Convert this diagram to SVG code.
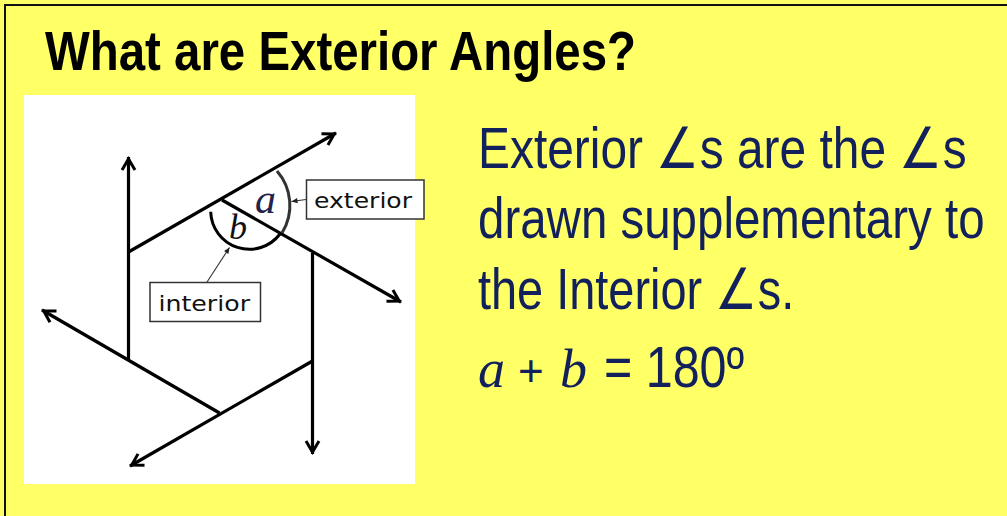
<svg xmlns="http://www.w3.org/2000/svg" width="1007" height="516" viewBox="0 0 1007 516">
  <style>
    .ray { fill: none; stroke: #000; stroke-width: 3.2; marker-end: url(#rayHead); }
    .lead { fill: none; stroke: #333; stroke-width: 1.1; marker-end: url(#leadHead); }
    .box { fill: #fff; stroke: #333; stroke-width: 1.5; }
    .lbl { font-family: "DejaVu Sans", "Liberation Sans", sans-serif; font-size: 21px; fill: #111; }
    .body { font-family: "Liberation Sans", Arial, sans-serif; font-size: 57px; fill: #12205c; }
    .mathv { font-family: "Liberation Serif", "Times New Roman", serif; font-style: italic; }
  </style>
  <defs>
    <marker id="rayHead" markerUnits="userSpaceOnUse" markerWidth="30" markerHeight="30" viewBox="-15 -15 30 30" refX="0" refY="0" orient="auto" overflow="visible">
      <path d="M -13 -6.5 L -2 0 L -13 6.5" fill="none" stroke="#000" stroke-width="3"/>
    </marker>
    <marker id="leadHead" markerUnits="userSpaceOnUse" markerWidth="12" markerHeight="12" viewBox="-8 -6 12 12" refX="0" refY="0" orient="auto" overflow="visible">
      <path d="M 0 0 L -6 -2.6 L -6 2.6 z" fill="#222"/>
    </marker>
  </defs>

  <g id="background">
    <rect x="0" y="0" width="1007" height="516" fill="#ffff66"/>
    <rect x="5" y="5" width="1010" height="520" fill="none" stroke="#111" stroke-width="2"/>
  </g>

  <g id="title">
    <text x="45" y="70" font-family="Liberation Sans, Arial, sans-serif" font-weight="bold" font-size="55" fill="#000" textLength="591" lengthAdjust="spacingAndGlyphs">What are Exterior Angles?</text>
  </g>

  <g id="figure-panel">
    <rect x="24" y="95" width="391" height="389" fill="#fff"/>
  </g>

  <g id="rays">
    <path class="ray" d="M 128.5 359 L 128.5 157"/>
    <path class="ray" d="M 128.5 252 L 336 133"/>
    <path class="ray" d="M 222 200 L 401 302"/>
    <path class="ray" d="M 312.5 253 L 312.5 454"/>
    <path class="ray" d="M 312.5 361 L 130 466"/>
    <path class="ray" d="M 219.5 413 L 42 310"/>
  </g>

  <g id="arcs">
    <path id="arc-a" d="M 277 171 A 52.3 52.3 0 0 1 282 233" fill="none" stroke="#333" stroke-width="3"/>
    <path id="arc-b" d="M 210.7 211.7 A 38.6 38.6 0 0 0 280 234" fill="none" stroke="#000" stroke-width="3"/>
  </g>

  <g id="label-a">
    <text x="255" y="213" class="mathv" font-size="42" fill="#22224a">a</text>
  </g>
  <g id="label-b">
    <text x="229" y="239" class="mathv" font-size="36" fill="#111">b</text>
  </g>

  <g id="exterior-label">
    <rect class="box" x="306.5" y="180" width="117.5" height="39"/>
    <text class="lbl" x="314" y="207.5" textLength="98" lengthAdjust="spacingAndGlyphs">exterior</text>
  </g>

  <g id="interior-label">
    <rect class="box" x="150" y="282.5" width="110.5" height="39"/>
    <text class="lbl" x="158.5" y="310.5" textLength="91.5" lengthAdjust="spacingAndGlyphs">interior</text>
  </g>

  <g id="connectors">
    <path class="lead" d="M 306 199.5 L 291.5 201.5"/>
    <path class="lead" d="M 206.7 282.5 L 229.5 247.5"/>
  </g>

  <g id="explanation">
    <text class="body" transform="translate(478,168) scale(0.85,1)" x="0" y="0" textLength="575" lengthAdjust="spacingAndGlyphs">Exterior ∠s are the ∠s</text>
    <text class="body" transform="translate(478,238) scale(0.85,1)" x="0" y="0" textLength="596" lengthAdjust="spacingAndGlyphs">drawn supplementary to</text>
    <text class="body" transform="translate(478,309) scale(0.85,1)" x="0" y="0" textLength="372" lengthAdjust="spacingAndGlyphs">the Interior ∠s.</text>
    <g id="equation">
      <text class="body mathv" x="478" y="387" style="font-size:54px">a</text>
      <text class="body" x="518" y="386" style="font-size:44px">+</text>
      <text class="body mathv" x="560" y="387" style="font-size:54px">b</text>
      <text class="body" transform="translate(604,387) scale(0.85,1)" x="0" y="0" textLength="165" lengthAdjust="spacingAndGlyphs">= 180º</text>
    </g>
  </g>
</svg>
